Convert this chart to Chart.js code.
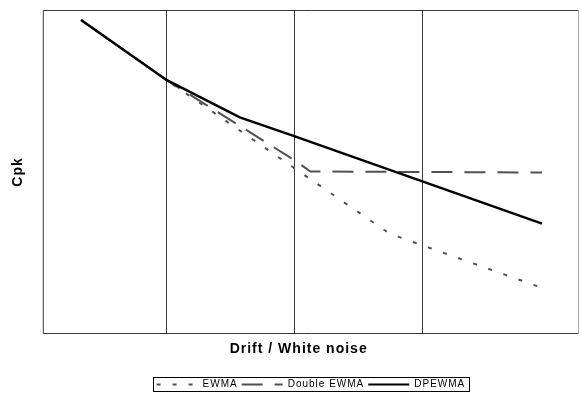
<!DOCTYPE html>
<html>
<head>
<meta charset="utf-8">
<script src="https://cdn.jsdelivr.net/npm/chart.js@4/dist/chart.umd.min.js"></script>
<style>
  html, body { margin: 0; padding: 0; background: #fff; }
  #wrap { width: 581px; height: 393px; }
</style>
</head>
<body>
<div id="wrap"><canvas id="c" width="581" height="393"></canvas></div>
<script>
// Series names
const seriesNames = ['EWMA', 'Double EWMA', 'DPEWMA'];
// x positions (in grid-line units; vertical grid lines at 1, 2, 3)
const ewmaX   = [0.33, 1, 2, 2.74, 3.93];
const ewmaY   = [3.13, 2.53, 1.65, 1.00, 0.46];
const dewmaX  = [0.33, 1, 2, 2.12, 3.93];
const dewmaY  = [3.13, 2.53, 1.73, 1.62, 1.61];
const dpX     = [0.33, 1, 1.57, 2, 3.93];
const dpY     = [3.13, 2.53, 2.16, 1.97, 1.10];
const gridTicks = [1, 2, 3];
const xTitle = 'Drift / White noise';
const yTitle = 'Cpk';

const pts = (xs, ys) => xs.map((x, i) => ({ x: x, y: ys[i] }));

const spacingPlugin = {
  id: 'spacing',
  beforeUpdate(chart) { chart.ctx.letterSpacing = '1px'; },
  beforeLayout(chart) { chart.ctx.letterSpacing = '1px'; },
  beforeDraw(chart) { chart.ctx.letterSpacing = '1px'; }
};

const framePlugin = {
  id: 'frame',
  afterDraw(chart) {
    const { ctx, chartArea: a } = chart;
    ctx.save();
    ctx.lineWidth = 1;
    ctx.setLineDash([]);
    ctx.strokeStyle = '#3a3a3a';
    ctx.beginPath();
    ctx.moveTo(a.right, a.top + 0.5);
    ctx.lineTo(a.left + 0.5, a.top + 0.5);
    ctx.lineTo(a.left + 0.5, a.bottom - 0.5);
    ctx.lineTo(a.right, a.bottom - 0.5);
    ctx.stroke();
    ctx.strokeStyle = '#a8a8a8';
    ctx.beginPath();
    ctx.moveTo(a.right - 0.5, a.top);
    ctx.lineTo(a.right - 0.5, a.bottom);
    ctx.stroke();
    // legend border
    const lg = chart.legend;
    if (lg && lg.legendHitBoxes && lg.legendHitBoxes.length) {
      let l = Infinity, r = -Infinity, t = Infinity, b = -Infinity;
      lg.legendHitBoxes.forEach(h => {
        l = Math.min(l, h.left); r = Math.max(r, h.left + h.width);
        t = Math.min(t, h.top); b = Math.max(b, h.top + h.height);
      });
      ctx.strokeStyle = '#000';
      ctx.strokeRect(Math.round(l) - 3.5, Math.round(t) - 2.5, Math.round(r - l) + 7, Math.round(b - t) + 4);
    }
    ctx.restore();
  }
};

new Chart(document.getElementById('c'), {
  type: 'line',
  data: {
    datasets: [
      { label: seriesNames[0], data: pts(ewmaX, ewmaY), borderColor: '#505050', borderWidth: 2, borderDash: [4, 12], pointRadius: 0, tension: 0, order: 3 },
      { label: seriesNames[1], data: pts(dewmaX, dewmaY), borderColor: '#505050', borderWidth: 2, borderDash: [21, 12], pointRadius: 0, tension: 0, order: 2 },
      { label: seriesNames[2], data: pts(dpX, dpY), borderColor: '#000000', borderWidth: 2.5, pointRadius: 0, tension: 0, order: 1 }
    ]
  },
  options: {
    responsive: false,
    animation: false,
    layout: { padding: { left: 0, right: 2, top: 10, bottom: -6.5 } },
    scales: {
      x: {
        type: 'linear',
        min: 0.03125,
        max: 4.21875,
        afterBuildTicks: (s) => { s.ticks = gridTicks.map(v => ({ value: v })); },
        ticks: { display: false },
        border: { display: false },
        grid: { color: '#3a3a3a', lineWidth: 1, drawTicks: false },
        title: { display: true, text: xTitle + '\u00a0\u00a0\u00a0\u00a0\u00a0', color: '#000', font: { family: 'Liberation Sans', size: 14, weight: 'bold' }, padding: { top: 6.6, bottom: 18.1 } }
      },
      y: {
        type: 'linear',
        min: 0,
        max: 3.23,
        ticks: { display: false },
        border: { display: false },
        grid: { display: false, drawTicks: false },
        title: { display: true, text: yTitle, color: '#000', font: { family: 'Liberation Sans', size: 14, weight: 'bold' }, padding: { top: 10, bottom: 16 } }
      }
    },
    plugins: {
      legend: {
        position: 'bottom',
        fullSize: false,
        labels: {
          usePointStyle: true,
          pointStyle: 'line',
          pointStyleWidth: 41,
          boxHeight: 8,
          padding: 4,
          color: '#000',
          font: { family: 'Liberation Sans', size: 10 },
          sort: (a, b) => a.datasetIndex - b.datasetIndex,
          generateLabels: (chart) => Chart.defaults.plugins.legend.labels.generateLabels(chart).map(l => {
            l.lineDash = chart.data.datasets[l.datasetIndex].borderDash || [];
            l.lineWidth = 2;
            return l;
          })
        }
      },
      tooltip: { enabled: false }
    }
  },
  plugins: [spacingPlugin, framePlugin]
});
</script>
</body>
</html>
